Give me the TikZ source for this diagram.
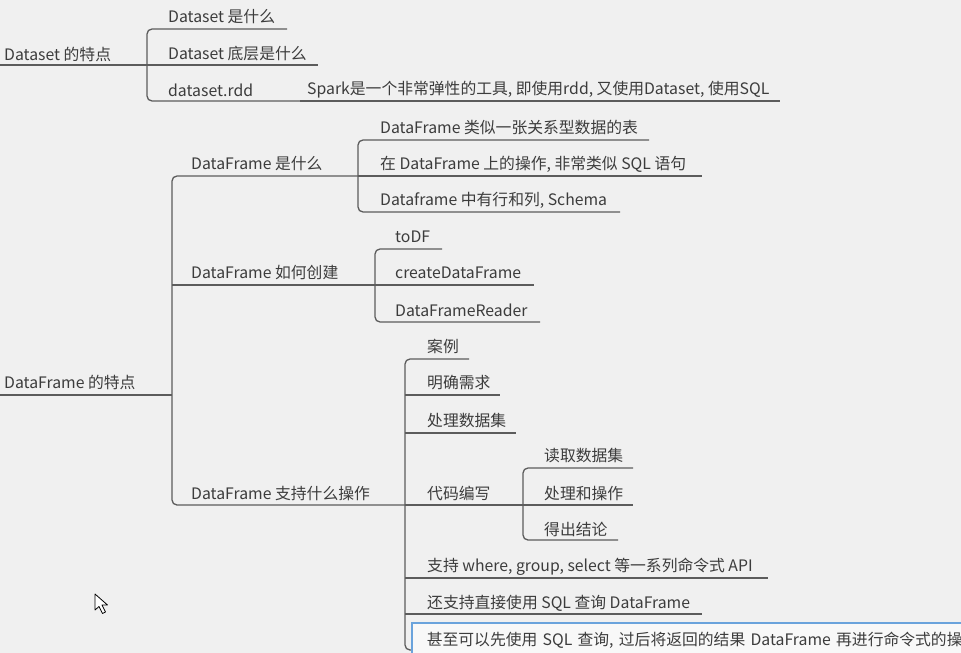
\documentclass[tikz,border=0pt]{standalone}
\usepackage{fontspec}
\setmainfont{Noto Sans CJK SC}
\definecolor{bg}{HTML}{F0F0F0}
\definecolor{lncol}{HTML}{5C5C5C}
\definecolor{txcol}{HTML}{3C3C3C}
\definecolor{selblue}{HTML}{6AA3DC}
\begin{document}
\begin{tikzpicture}[x=1pt,y=-1pt,
  lbl/.style={anchor=west, inner sep=0pt, text=txcol, font=\fontsize{15.8}{17}\selectfont},
  conn/.style={draw=lncol, line width=1.3pt, rounded corners=5pt}]
\fill[bg] (0,0) rectangle (961,653);
\useasboundingbox (0,0) rectangle (961,653);
\clip (0,0) rectangle (961,653);

% ---------- Dataset ----------
\node[lbl] (root1) at (4,54) {Dataset 的特点};
\node[lbl] (c1) at (168,17) {Dataset 是什么};
\node[lbl] (c2) at (168,54) {Dataset 底层是什么};
\node[lbl] (c3) at (168,90) {dataset.rdd};
\node[lbl] (c3a) at (307,90) {Spark是一个非常弹性的工具, 即使用rdd, 又使用Dataset, 使用SQL};

\coordinate (r1a) at (0,65);
\coordinate (r1j) at (147,65);
\coordinate (c1e) at (287,29);
\coordinate (c2e) at (318,65);
\coordinate (c3e) at (300,101);
\coordinate (c3ae) at (780,101);
\draw[conn] (r1a) -- (r1j) -- (c2e);
\draw[conn] (c1e) -| (r1j) |- (c3e);
\draw[conn] (c3e) -- (c3ae);

% ---------- DataFrame ----------
\node[lbl] (root2) at (4,382) {DataFrame 的特点};
\node[lbl] (b1) at (191,164) {DataFrame 是什么};
\node[lbl] (b1a) at (380,128) {DataFrame 类似一张关系型数据的表};
\node[lbl] (b1b) at (380,164) {在 DataFrame 上的操作, 非常类似 SQL 语句};
\node[lbl] (b1c) at (380,200) {Dataframe 中有行和列, Schema};

\node[lbl] (b2) at (191,273) {DataFrame 如何创建};
\node[lbl] (b2a) at (395,237) {toDF};
\node[lbl] (b2b) at (395,273) {createDataFrame};
\node[lbl] (b2c) at (395,310) {DataFrameReader};

\node[lbl] (b3) at (191,493) {DataFrame 支持什么操作};
\node[lbl] (b3a) at (427,346) {案例};
\node[lbl] (b3b) at (427,383) {明确需求};
\node[lbl] (b3c) at (427,420) {处理数据集};
\node[lbl] (b3d) at (427,493) {代码编写};
\node[lbl] (d1) at (544,456) {读取数据集};
\node[lbl] (d2) at (544,493) {处理和操作};
\node[lbl] (d3) at (544,529) {得出结论};
\node[lbl] (b3e) at (427,567) {支持 where, group, select 等一系列命令式 API};
\node[lbl] (b3f) at (427,603) {还支持直接使用 SQL 查询 DataFrame};

\coordinate (r2a) at (0,395);
\coordinate (r2j) at (172,395);
\coordinate (b1j) at (358,176);
\coordinate (b1ae) at (649,140);
\coordinate (b1be) at (702,176);
\coordinate (b1ce) at (620,212);
\coordinate (b2j) at (375,285);
\coordinate (b2ae) at (442,249);
\coordinate (b2be) at (534,285);
\coordinate (b2ce) at (540,322);
\coordinate (b3j) at (405,505);
\coordinate (b3ae) at (469,359);
\coordinate (b3be) at (500,395);
\coordinate (b3ce) at (516,433);
\coordinate (dj) at (523,505);
\coordinate (d1e) at (633,468);
\coordinate (d2e) at (633,505);
\coordinate (d3e) at (618,540);
\coordinate (b3ee) at (768,578);
\coordinate (b3fe) at (702,614);
\coordinate (b3ge) at (990,650);

\draw[conn] (r2a) -- (r2j);
\draw[conn] (b1j) -| (r2j) |- (b3j);
\draw[conn] (r2j |- b2j) -- (b2j);

\draw[conn] (b1ae) -| (b1j) |- (b1ce);
\draw[conn] (b1j) -- (b1be);

\draw[conn] (b2ae) -| (b2j) |- (b2ce);
\draw[conn] (b2j) -- (b2be);

\draw[conn] (b3ae) -| (b3j) |- (b3ge);
\draw[conn] (b3j |- b3be) -- (b3be);
\draw[conn] (b3j |- b3ce) -- (b3ce);
\draw[conn] (b3j) -- (dj);
\draw[conn] (b3j |- b3ee) -- (b3ee);
\draw[conn] (b3j |- b3fe) -- (b3fe);

\draw[conn] (d1e) -| (dj) |- (d3e);
\draw[conn] (dj) -- (d2e);

% selected topic
\node[lbl, draw=selblue, line width=1.6pt, fill=white!55!bg, anchor=north west,
      minimum height=34pt, text width=640pt, inner xsep=15pt, align=left]
      (b3g) at (411,622) {甚至可以先使用 SQL 查询, 过后将返回的结果 DataFrame 再进行命令式的操作};

% mouse pointer
\draw[black, line width=0.8pt, fill=white, line join=round]
  (95,594) -- (95,610) -- (99,606.5) -- (102.5,613.5) -- (105.5,612) -- (102,605) -- (107.5,605) -- cycle;
\end{tikzpicture}
\end{document}
